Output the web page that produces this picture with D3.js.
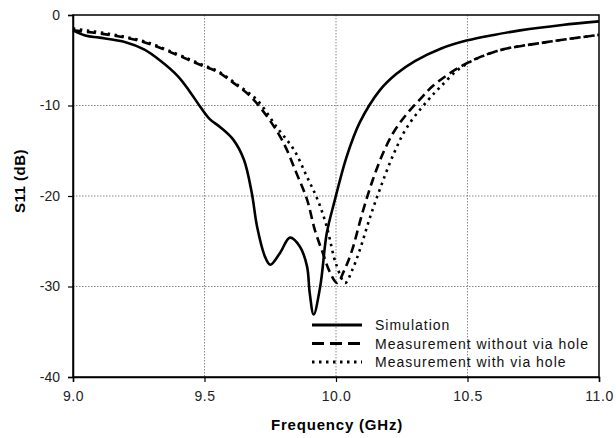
<!DOCTYPE html>
<html><head><meta charset="utf-8">
<script src="https://cdn.jsdelivr.net/npm/d3@7"></script>
<style>body{margin:0;background:#fff;} svg{display:block;font-family:"Liberation Sans",Arial,sans-serif;}</style>
</head><body><svg id="c" width="616" height="438"></svg>
<script>
const xTicks = [9.0, 9.5, 10.0, 10.5, 11.0];
const yTicks = [0, -10, -20, -30, -40];
const seriesNames = ["Simulation", "Measurement without via hole", "Measurement with via hole"];

const simFreq = [9.0, 9.05, 9.1, 9.2, 9.27, 9.33, 9.4, 9.445, 9.483, 9.52, 9.56, 9.61, 9.65, 9.68, 9.70, 9.73, 9.75, 9.787, 9.825, 9.863, 9.89, 9.90, 9.915, 9.94, 9.965, 9.996, 10.04, 10.09, 10.167, 10.23, 10.3, 10.4, 10.5, 10.6, 10.7, 10.86, 11.0];
const simDb   = [-1.7, -2.3, -2.5, -3.0, -3.8, -5.0, -6.8, -8.5, -10.1, -11.5, -12.4, -13.8, -16.0, -19.7, -23.4, -26.7, -27.6, -26.3, -24.6, -25.6, -27.8, -30.7, -33.1, -30.0, -24.1, -20.4, -15.7, -11.9, -8.3, -6.5, -5.1, -3.7, -2.8, -2.2, -1.7, -1.1, -0.7];

const noViaFreq = [9.0, 9.14, 9.27, 9.395, 9.483, 9.55, 9.61, 9.675, 9.74, 9.80, 9.85, 9.89, 9.92, 9.95, 9.975, 10.004, 10.03, 10.06, 10.10, 10.14, 10.18, 10.22, 10.27, 10.32, 10.37, 10.48, 10.61, 10.80, 11.0];
const noViaDb   = [-1.7, -2.2, -3.0, -4.4, -5.5, -6.3, -7.5, -9.0, -11.3, -14.1, -17.5, -20.4, -23.8, -26.3, -28.3, -29.6, -28.3, -26.1, -21.9, -18.2, -15.2, -12.9, -10.9, -9.3, -7.8, -5.6, -4.0, -3.0, -2.2];

const viaFreq = [9.0, 9.14, 9.27, 9.395, 9.483, 9.55, 9.62, 9.70, 9.775, 9.84, 9.89, 9.93, 9.965, 10.0, 10.035, 10.06, 10.09, 10.13, 10.17, 10.22, 10.27, 10.35, 10.395, 10.48, 10.61, 10.80, 11.0];
const viaDb   = [-1.5, -2.1, -2.9, -4.3, -5.4, -6.2, -7.6, -9.4, -12.4, -14.9, -17.9, -20.4, -23.4, -27.5, -29.6, -28.3, -26.0, -22.3, -19.0, -15.3, -12.4, -9.4, -8.0, -5.7, -4.0, -3.0, -2.2];

const svg = d3.select("#c");
const L = 73, R = 599, T = 15, B = 377;
const x = d3.scaleLinear().domain([9, 11]).range([L, R]);
const y = d3.scaleLinear().domain([0, -40]).range([T, B]);

// gridlines
const g = svg.append("g");
g.selectAll(".vg").data(xTicks.slice(1, -1)).join("line")
  .attr("x1", d => x(d)).attr("x2", d => x(d)).attr("y1", T).attr("y2", B)
  .attr("stroke", "#888").attr("stroke-width", 1).attr("stroke-dasharray", "1.5,1.5");
g.selectAll(".hg").data(yTicks.slice(1, -1)).join("line")
  .attr("x1", L).attr("x2", R).attr("y1", d => y(d)).attr("y2", d => y(d))
  .attr("stroke", "#888").attr("stroke-width", 1).attr("stroke-dasharray", "1.5,1.5");

// frame
svg.append("rect").attr("x", L).attr("y", T).attr("width", R - L).attr("height", B - T)
  .attr("fill", "none").attr("stroke", "#000").attr("stroke-width", 1.5);

// axes
const xAxis = svg.append("g").attr("transform", `translate(0,${B})`)
  .call(d3.axisBottom(x).tickValues(xTicks).tickFormat(d3.format(".1f")).tickSize(5).tickPadding(9));
const yAxis = svg.append("g").attr("transform", `translate(${L},0)`)
  .call(d3.axisLeft(y).tickValues(yTicks).tickFormat(d => d).tickSize(5).tickPadding(8));
[xAxis, yAxis].forEach(a => {
  a.select(".domain").attr("stroke", "#000").attr("stroke-width", 1.5);
  a.selectAll(".tick line").attr("stroke", "#000").attr("stroke-width", 1.2);
  a.selectAll("text").attr("font-size", 14).attr("fill", "#222")
    .attr("font-family", "'Liberation Sans',Arial,sans-serif");
});
xAxis.selectAll("text").attr("letter-spacing", 0.6);

// lines
const line = d3.line().x(d => x(d[0])).y(d => y(d[1])).curve(d3.curveCatmullRom.alpha(0.5));
const series = [
  {name: seriesNames[0], f: simFreq, v: simDb, dash: null},
  {name: seriesNames[1], f: noViaFreq, v: noViaDb, dash: "9,5"},
  {name: seriesNames[2], f: viaFreq, v: viaDb, dash: "2.5,4.5"}
];
series.slice().reverse().forEach(s => {
  svg.append("path").datum(d3.zip(s.f, s.v)).attr("d", line)
    .attr("fill", "none").attr("stroke", "#000").attr("stroke-width", 2.6)
    .attr("stroke-dasharray", s.dash);
});

// legend
const leg = svg.append("g");
series.forEach((s, i) => {
  const yy = 325 + i * 18.5;
  leg.append("line").attr("x1", 312).attr("x2", 362).attr("y1", yy).attr("y2", yy)
    .attr("stroke", "#000").attr("stroke-width", 2.8)
    .attr("stroke-dasharray", i === 1 ? "12,6" : (i === 2 ? "2.5,4.5" : null));
  leg.append("text").attr("x", 375).attr("y", yy + 5).text(s.name)
    .attr("font-size", 14).attr("letter-spacing", 1).attr("fill", "#111");
});

// titles
svg.append("text").attr("x", 337).attr("y", 430).attr("text-anchor", "middle")
  .attr("font-size", 15).attr("font-weight", "bold").attr("letter-spacing", 0.8)
  .text("Frequency (GHz)");
svg.append("text").attr("transform", "translate(25,181) rotate(-90)").attr("text-anchor", "middle")
  .attr("font-size", 15).attr("font-weight", "bold").attr("letter-spacing", 0.5)
  .text("S11 (dB)");
</script></body></html>
